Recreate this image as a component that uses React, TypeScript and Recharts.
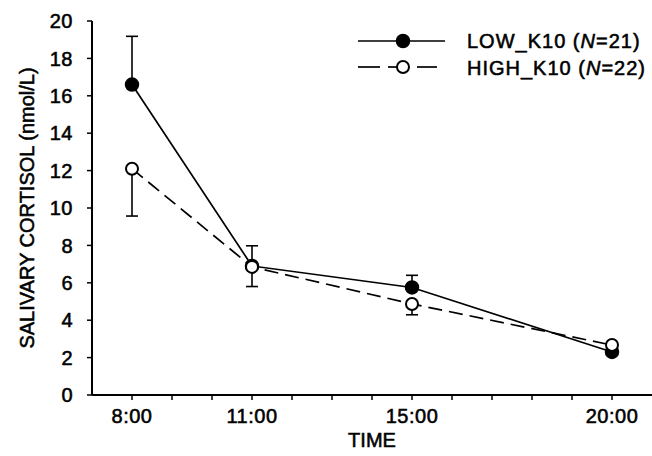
import React from 'react';
import { LineChart, Line, XAxis, YAxis, ErrorBar, Legend } from 'recharts';

const times = [8, 11, 15, 20];
const timeLabels: Record<number, string> = { 8: '8:00', 11: '11:00', 15: '15:00', 20: '20:00' };
const lowK10 = [16.6, 6.9, 5.75, 2.3];
const lowErrUp = [2.58, 1.08, 0.65, 0];
const highK10 = [12.1, 6.85, 4.87, 2.67];
const highErrDown = [2.53, 1.05, 0.58, 0];
const hourTicks = [8, 9, 10, 11, 12, 13, 14, 15, 16, 17, 18, 19, 20];
const yTicks = [0, 2, 4, 6, 8, 10, 12, 14, 16, 18, 20];
const seriesNames = ['LOW_K10', 'HIGH_K10'];
const seriesN = [21, 22];

const data = times.map((t, i) => ({
  t,
  low: lowK10[i],
  lowErr: [0, lowErrUp[i]],
  high: highK10[i],
  highErr: [highErrDown[i], 0],
}));

const FONT = '"Liberation Sans", Arial, Helvetica, sans-serif';
const textStyle = { stroke: '#000', strokeWidth: 0.55 };

const XTick = (props: any) => {
  const { x, y, payload } = props;
  const label = timeLabels[payload.value];
  if (!label) return null;
  return (
    <text x={x} y={y} dy="0.71em" textAnchor="middle" fontFamily={FONT} fontSize={20} fill="#000" letterSpacing={0.5} style={textStyle}>
      {label}
    </text>
  );
};

const YTick = (props: any) => {
  const { x, y, payload } = props;
  return (
    <text x={x} y={y} dy="0.355em" textAnchor="end" fontFamily={FONT} fontSize={20} fill="#000" letterSpacing={0.5} style={textStyle}>
      {payload.value}
    </text>
  );
};

const LegendContent = () => (
  <svg width={302} height={60} style={{ display: 'block' }}>
    <line x1={8} y1={16} x2={95} y2={16} stroke="#000" strokeWidth={1.7} />
    <circle cx={53} cy={16} r={6.5} fill="#000" stroke="#000" strokeWidth={1.5} />
    <text x={117} y={23} fontFamily={FONT} fontSize={20} fill="#000" letterSpacing={1} style={textStyle}>
      {seriesNames[0]} (<tspan fontStyle="italic">N</tspan>={seriesN[0]})
    </text>
    <line x1={8} y1={42} x2={30} y2={42} stroke="#000" strokeWidth={1.7} />
    <line x1={38} y1={42} x2={47} y2={42} stroke="#000" strokeWidth={1.7} />
    <line x1={67} y1={42} x2={87} y2={42} stroke="#000" strokeWidth={1.7} />
    <circle cx={53} cy={42} r={6} fill="#fff" stroke="#000" strokeWidth={2} />
    <text x={117} y={50} fontFamily={FONT} fontSize={20} fill="#000" letterSpacing={1} style={textStyle}>
      {seriesNames[1]} (<tspan fontStyle="italic">N</tspan>={seriesN[1]})
    </text>
  </svg>
);

export default function App() {
  return (
    <div style={{ position: 'absolute', left: 0, top: 0, background: '#fff' }}>
      <LineChart width={652} height={456} data={data} margin={{ top: 21, right: 0, bottom: 0, left: 0 }}>
        <XAxis
          dataKey="t"
          type="number"
          domain={[7, 21]}
          ticks={hourTicks}
          interval={0}
          height={61}
          tickSize={5}
          tickMargin={9}
          tick={<XTick />}
          axisLine={{ stroke: '#000', strokeWidth: 2 }}
          tickLine={{ stroke: '#000', strokeWidth: 1.5 }}
          allowDataOverflow
          label={{ value: 'TIME', position: 'insideBottom', offset: 9, fill: '#000', fontSize: 20, fontFamily: FONT, style: textStyle }}
        />
        <YAxis
          type="number"
          domain={[0, 20]}
          ticks={yTicks}
          interval={0}
          width={92}
          tickSize={5}
          tickMargin={14}
          tick={<YTick />}
          axisLine={{ stroke: '#000', strokeWidth: 2 }}
          tickLine={{ stroke: '#000', strokeWidth: 1.5 }}
          allowDataOverflow
          label={{
            value: 'SALIVARY CORTISOL (nmol/L)',
            angle: -90,
            position: 'insideLeft',
            offset: 27,
            fill: '#000',
            fontSize: 20,
            fontFamily: FONT,
            style: { textAnchor: 'middle', ...textStyle },
          }}
        />
        <Legend
          layout="vertical"
          align="center"
          verticalAlign="middle"
          wrapperStyle={{ left: 350, top: 25, width: 302, height: 60 }}
          content={<LegendContent />}
        />
        <Line
          dataKey="low"
          type="linear"
          stroke="#000"
          strokeWidth={1.7}
          isAnimationActive={false}
          dot={{ r: 6.5, fill: '#000', stroke: '#000', strokeWidth: 1.5 }}
          activeDot={false}
        >
          <ErrorBar dataKey="lowErr" width={6} stroke="#000" strokeWidth={1.6} direction="y" isAnimationActive={false} />
        </Line>
        <Line
          dataKey="high"
          type="linear"
          stroke="#000"
          strokeWidth={1.7}
          strokeDasharray="14 7"
          isAnimationActive={false}
          dot={{ r: 6, fill: '#fff', stroke: '#000', strokeWidth: 2, strokeDasharray: '' }}
          activeDot={false}
        >
          <ErrorBar dataKey="highErr" width={6} stroke="#000" strokeWidth={1.6} direction="y" isAnimationActive={false} />
        </Line>
      </LineChart>
    </div>
  );
}
